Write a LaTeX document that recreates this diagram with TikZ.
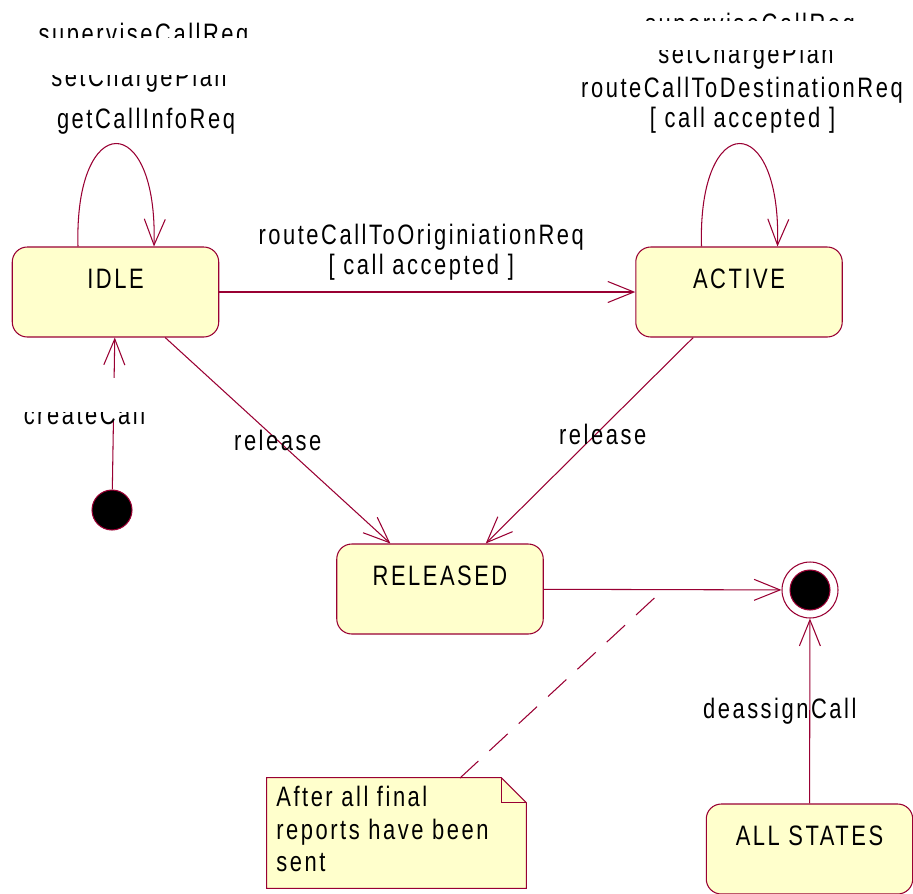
\documentclass[tikz,border=0pt]{standalone}
\usepackage{fontspec}
\setmainfont{Liberation Sans}[FakeStretch=0.78,LetterSpace=9]
\usepackage{tikz}
\usetikzlibrary{arrows.meta}
\definecolor{umlline}{RGB}{153,0,51}
\definecolor{umlfill}{RGB}{255,255,204}

\begin{document}
\begin{tikzpicture}[x=0.02cm, y=-0.02cm, >={Straight Barb[length=0.52cm,width=0.42cm]},
    every node/.style={font=\fontsize{16}{18.5}\selectfont},
    state/.style={rectangle, rounded corners=0.3cm, draw=umlline, fill=umlfill, line width=0.6pt,
      minimum width=4.13cm, text height=0.62cm, text depth=0.78cm, inner ysep=0.2cm},
    trans/.style={->, draw=umlline, line width=0.6pt},
    lbl/.style={inner sep=0, anchor=base},
    dot/.style={circle, fill=black, draw=umlline, line width=0.6pt, inner sep=0, minimum size=0.8cm},
    finalring/.style={circle, fill=white, draw=umlline, line width=0.6pt, inner sep=0, minimum size=1.12cm},
    notebox/.style={rectangle, inner sep=0, minimum width=5.18cm, minimum height=2.2cm}]
  \useasboundingbox (0,0) rectangle (913,893);

  \node[state] (idle) at (115.5,292) {IDLE};
  \node[state] (active) at (739,292) {ACTIVE};
  \node[state] (released) at (440,589) {RELEASED};
  \node[state] (allstates) at (809.5,849) {ALL STATES};
  \node[dot] (init) at (112,510) {};
  \node[finalring] (fin) at (810,590) {};
  \node[dot] (finin) at (fin) {};
  \node[notebox] (note) at (396.5,833) {};

  \path
    (idle) edge[trans] node[above=0.22cm, xshift=-0.12cm, inner sep=0, align=center,
        font=\fontsize{16}{17}\selectfont] {routeCallToOriginiationReq\\{[} call accepted ]} (active)
    (idle) edge[trans] node[inner sep=0] {release} (released)
    (active) edge[trans] node[inner sep=0, pos=0.47, xshift=0.14cm] {release} (released)
    (released) edge[trans] (fin)
    (allstates) edge[trans] node[inner sep=0, xshift=-0.6cm] {deassignCall} (fin);

  % self transitions
  \draw[trans] ([xshift=-0.75cm]idle.north) .. controls +(-0.08cm,2.74cm) and +(0.08cm,2.74cm) .. ([xshift=0.77cm]idle.north);
  \draw[trans] ([xshift=-0.75cm]active.north) .. controls +(-0.08cm,2.74cm) and +(0.08cm,2.74cm) .. ([xshift=0.77cm]active.north);

  \begin{scope}
    \clip (0,0) rectangle (300,37);
    \node[lbl] (idlesup) at (143.5,43) {superviseCallReq};
  \end{scope}
  \begin{scope}
    \clip (0,75) rectangle (300,100);
    \node[lbl] (idleset) at (139,86) {setChargePlan};
  \end{scope}
  \node[lbl] (idleget) at (146,128) {getCallInfoReq};

  \begin{scope}
    \clip (560,0) rectangle (913,20);
    \node[lbl] (actsup) at (750,33) {superviseCallReq};
  \end{scope}
  \begin{scope}
    \clip (560,50) rectangle (913,75);
    \node[lbl] (actset) at (746,63) {setChargePlan};
  \end{scope}
  \node[lbl] (actroute) at (742,97) {routeCallToDestinationReq};
  \node[lbl] (actguard) at (742.5,127) {[ call accepted ]};

  % initial transition, label cut off
  \draw[trans] (init) -- (idle);
  \fill[white] (20,378) rectangle (150,420);
  \begin{scope}
    \clip (0,412) rectangle (200,440);
    \node[lbl] (createlbl) at (84.5,424) {createCall};
  \end{scope}

  % note
  \filldraw[draw=umlline, fill=umlfill, line width=0.6pt] (note.north west) -- ([xshift=-0.5cm]note.north east)
    -- ([yshift=-0.5cm]note.north east) -- (note.south east) -- (note.south west) -- cycle;
  \draw[umlline, line width=0.6pt] ([xshift=-0.5cm]note.north east) |- ([yshift=-0.5cm]note.north east);
  \node[inner sep=0, anchor=north west, align=left] (notetxt) at (276,786) {After all final\\reports have been\\sent};
  \coordinate (notetip) at (460,778);
  \coordinate (noteend) at (663,590);
  \draw[umlline, line width=0.6pt, dash pattern=on 0.5cm off 0.3cm] (notetip) -- (noteend);
\end{tikzpicture}
\end{document}
